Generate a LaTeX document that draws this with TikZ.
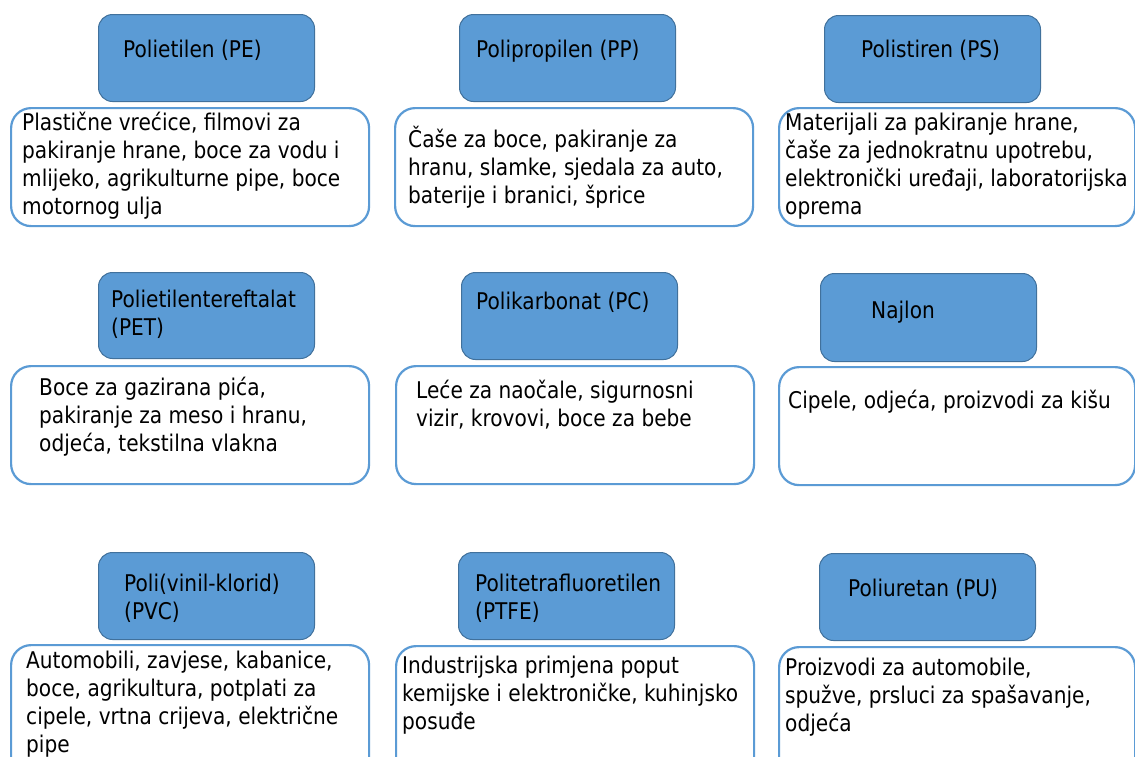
\documentclass[tikz,border=0pt]{standalone}
\usepackage{fontspec}
\setmainfont{DejaVu Sans}[FakeStretch=0.875]
\definecolor{accent}{HTML}{5B9BD5}
\definecolor{accentdark}{HTML}{41719C}
\newcommand\mylines[1]{\parbox[t]{380pt}{\raggedright #1}}
\tikzset{
  titlebox/.style={draw=accentdark, line width=1pt, fill=accent, rounded corners=14pt,
    minimum width=216pt, minimum height=87pt, inner sep=0pt, anchor=north west},
  usebox/.style={draw=accent, line width=2.2pt, fill=white, rounded corners=20pt,
    minimum width=358pt, minimum height=118pt, inner sep=0pt, anchor=north west},
  txt/.style={anchor=base west, inner sep=0pt, font=\fontsize{23}{28}\selectfont, text=black}
}
\begin{document}
\begin{tikzpicture}[x=1pt,y=-1pt]
\useasboundingbox (0,0) rectangle (1135,756);
\clip (0,0) rectangle (1135,756);
\fill[white] (0,0) rectangle (1135,756);

% Row 1
\node[titlebox] (t1) at (98,14) {};
\node[usebox] (u1) at (10,107) {};
\node[titlebox] (t2) at (459,14) {};
\node[usebox] (u2) at (394,107) {};
\node[titlebox] (t3) at (824,15) {};
\node[usebox, minimum width=356pt] (u3) at (778,107) {};

% Row 2
\node[titlebox, minimum height=86pt] (t4) at (98,272) {};
\node[usebox] (u4) at (10,365) {};
\node[titlebox] (t5) at (461,272) {};
\node[usebox] (u5) at (395,365) {};
\node[titlebox, minimum height=88pt] (t6) at (820,273) {};
\node[usebox, minimum width=356pt] (u6) at (778,366) {};

% Row 3
\node[titlebox] (t7) at (98,552) {};
\node[usebox, minimum height=140pt] (u7) at (10,644) {};
\node[titlebox] (t8) at (458,552) {};
\node[usebox, minimum height=140pt] (u8) at (395,645) {};
\node[titlebox] (t9) at (819,553) {};
\node[usebox, minimum width=356pt, minimum height=140pt] (u9) at (778,646) {};

% Texts row 1
\node[txt] (t1text) at (123,57) {Polietilen (PE)};
\node[txt] (t2text) at (476,57) {Polipropilen (PP)};
\node[txt] (t3text) at (861,57) {Polistiren (PS)};
\node[txt] (u1text) at (22,130) {\mylines{Plastične vrećice, filmovi za\\pakiranje hrane, boce za vodu i\\mlijeko, agrikulturne pipe, boce\\motornog ulja}};
\node[txt] (u2text) at (408,147) {\mylines{Čaše za boce, pakiranje za\\hranu, slamke, sjedala za auto,\\baterije i branici, šprice}};
\node[txt] (u3text) at (785,130) {\mylines{Materijali za pakiranje hrane,\\čaše za jednokratnu upotrebu,\\elektronički uređaji, laboratorijska\\oprema}};

% Texts row 2
\node[txt] (t4text) at (111,307) {\mylines{Polietilentereftalat\\(PET)}};
\node[txt] (t5text) at (476,309) {Polikarbonat (PC)};
\node[txt] (t6text) at (871,318) {Najlon};
\node[txt] (u4text) at (39,395) {\mylines{Boce za gazirana pića,\\pakiranje za meso i hranu,\\odjeća, tekstilna vlakna}};
\node[txt] (u5text) at (416,398) {\mylines{Leće za naočale, sigurnosni\\vizir, krovovi, boce za bebe}};
\node[txt] (u6text) at (788,408) {Cipele, odjeća, proizvodi za kišu};

% Texts row 3
\node[txt] (t7text) at (124,591) {\mylines{Poli(vinil-klorid)\\(PVC)}};
\node[txt] (t8text) at (475,591) {\mylines{Politetrafluoretilen\\(PTFE)}};
\node[txt] (t9text) at (848,596) {Poliuretan (PU)};
\node[txt] (u7text) at (26,668) {\mylines{Automobili, zavjese, kabanice,\\boce, agrikultura, potplati za\\cipele, vrtna crijeva, električne\\pipe}};
\node[txt] (u8text) at (402,673) {\mylines{Industrijska primjena poput\\kemijske i elektroničke, kuhinjsko\\posuđe}};
\node[txt] (u9text) at (785,675) {\mylines{Proizvodi za automobile,\\spužve, prsluci za spašavanje,\\odjeća}};
\end{tikzpicture}
\end{document}
